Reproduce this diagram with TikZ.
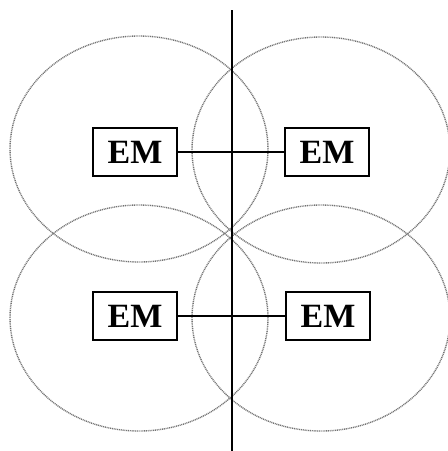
\documentclass[tikz,border=0pt]{standalone}
\usepackage{fontspec}
\setmainfont{Liberation Serif}
\usetikzlibrary{positioning}

\tikzset{
    zone/.style={black!55, line width=1.4pt, dash pattern=on 1pt off 0.8pt},
    divider/.style={black, line width=1.5pt},
    embox/.style={draw, line width=1.4pt, minimum width=84pt, minimum height=48pt,
        inner sep=0pt, font=\bfseries\fontsize{34}{34}\selectfont},
    link/.style={black, line width=1.4pt}
}

\begin{document}
\begin{tikzpicture}[x=1pt, y=-1pt]
        \useasboundingbox (0,0) rectangle (448,451);

        % Coverage zones
        \foreach \cx/\cy in {139/149, 321/150, 139/318, 321/318} {
            \draw[zone] (\cx,\cy) ellipse [x radius=129pt, y radius=113pt];
        }

        % Dividing line
        \coordinate (divtop) at (232,10);
        \coordinate (divbot) at (232,451);
        \draw[divider] (divtop) -- (divbot);

        % Modules
        \node[embox] (emTL) at (135,152) {EM};
        \node[embox] (emTR) at (327,152) {EM};
        \node[embox] (emBL) at (135,316) {EM};
        \node[embox] (emBR) at (328,316) {EM};

        % Links across the line
        \draw[link] (emTL) -- (emTR);
        \draw[link] (emBL) -- (emBR);
    \end{tikzpicture}
\end{document}
